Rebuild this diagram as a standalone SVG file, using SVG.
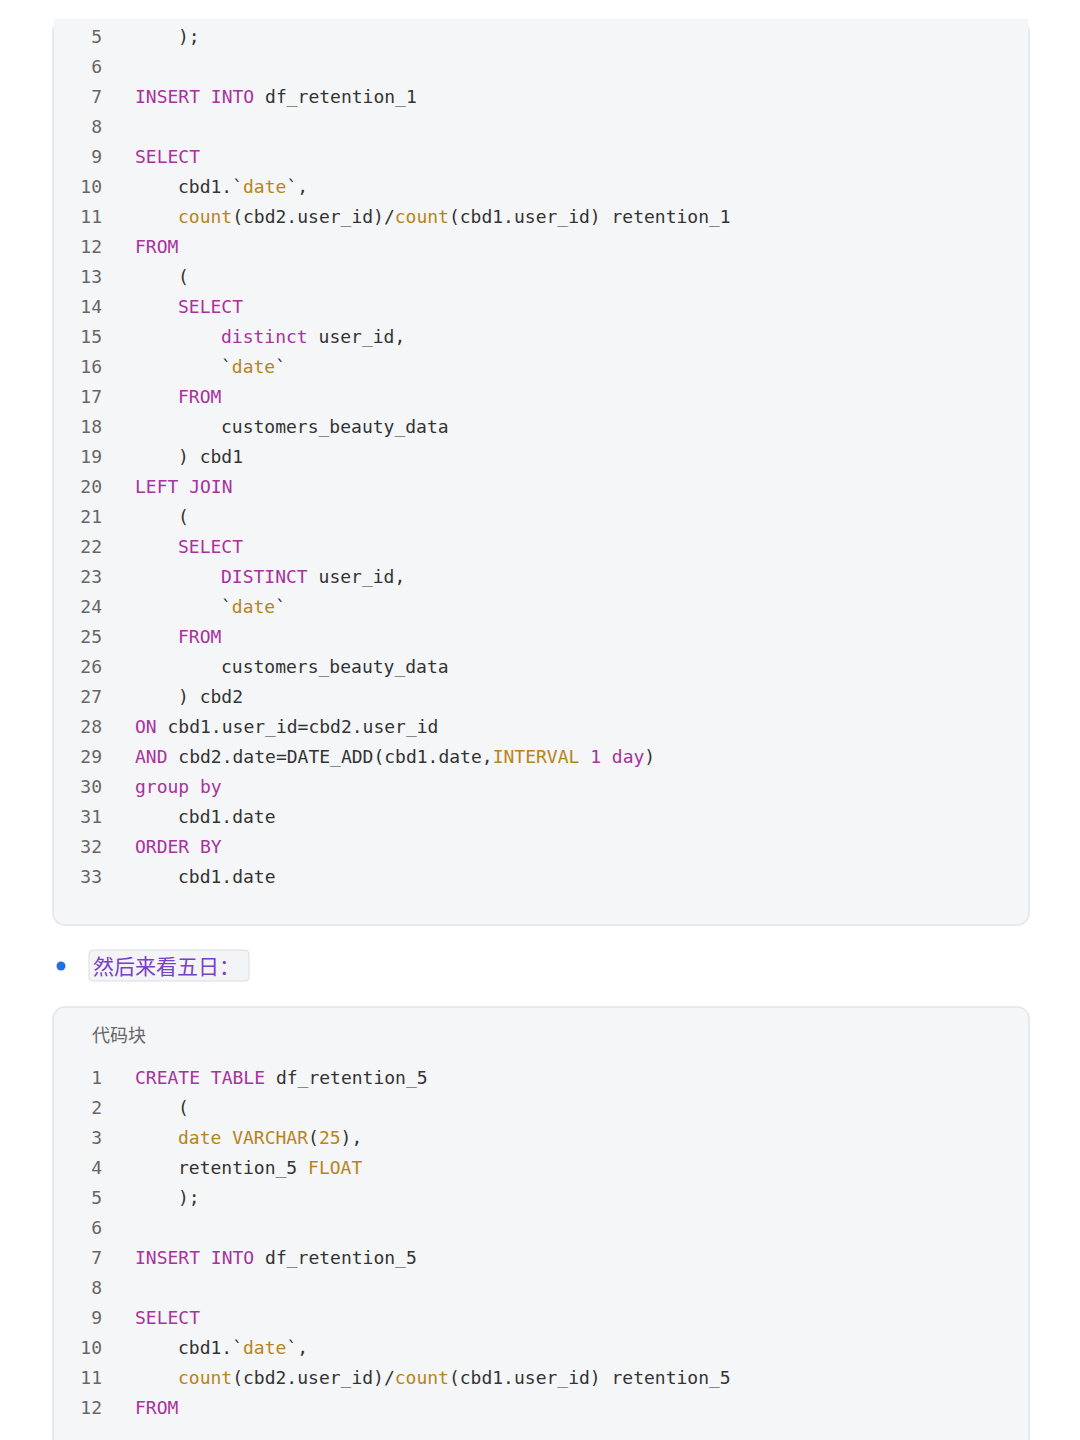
<svg xmlns="http://www.w3.org/2000/svg" width="1080" height="1440" viewBox="0 0 1080 1440">
<style>
.c{font-family:"DejaVu Sans Mono","Liberation Mono",monospace;font-size:18px;fill:#333;white-space:pre}
.n{font-family:"DejaVu Sans Mono",monospace;font-size:18px;fill:#666;text-anchor:end}
.k{fill:#a8329e}.o{fill:#b8841a}
.blk{fill:#f5f6f7;stroke:#e2e4e7;stroke-width:1.5}
</style>
<rect width="1080" height="1440" fill="#fff"/>
<g id="block1">
<rect class="blk" x="53" y="20" width="976" height="905" rx="12"/>
<rect x="53.75" y="19" width="974.5" height="12" fill="#f5f6f7"/>
<g class="n">
<text x="102" y="43">5</text><text x="102" y="73">6</text><text x="102" y="103">7</text><text x="102" y="133">8</text><text x="102" y="163">9</text><text x="102" y="193">10</text><text x="102" y="223">11</text><text x="102" y="253">12</text><text x="102" y="283">13</text><text x="102" y="313">14</text><text x="102" y="343">15</text><text x="102" y="373">16</text><text x="102" y="403">17</text><text x="102" y="433">18</text><text x="102" y="463">19</text><text x="102" y="493">20</text><text x="102" y="523">21</text><text x="102" y="553">22</text><text x="102" y="583">23</text><text x="102" y="613">24</text><text x="102" y="643">25</text><text x="102" y="673">26</text><text x="102" y="703">27</text><text x="102" y="733">28</text><text x="102" y="763">29</text><text x="102" y="793">30</text><text x="102" y="823">31</text><text x="102" y="853">32</text><text x="102" y="883">33</text>
</g>
<g class="c" xml:space="preserve">
<text x="178" y="43">);</text>
<text x="135" y="103"><tspan class="k">INSERT INTO</tspan> df_retention_1</text>
<text x="135" y="163" class="c k">SELECT</text>
<text x="178" y="193">cbd1.`<tspan class="o">date</tspan>`,</text>
<text x="178" y="223"><tspan class="o">count</tspan>(cbd2.user_id)/<tspan class="o">count</tspan>(cbd1.user_id) retention_1</text>
<text x="135" y="253" class="c k">FROM</text>
<text x="178" y="283">(</text>
<text x="178" y="313" class="c k">SELECT</text>
<text x="221" y="343"><tspan class="k">distinct</tspan> user_id,</text>
<text x="221" y="373">`<tspan class="o">date</tspan>`</text>
<text x="178" y="403" class="c k">FROM</text>
<text x="221" y="433">customers_beauty_data</text>
<text x="178" y="463">) cbd1</text>
<text x="135" y="493" class="c k">LEFT JOIN</text>
<text x="178" y="523">(</text>
<text x="178" y="553" class="c k">SELECT</text>
<text x="221" y="583"><tspan class="k">DISTINCT</tspan> user_id,</text>
<text x="221" y="613">`<tspan class="o">date</tspan>`</text>
<text x="178" y="643" class="c k">FROM</text>
<text x="221" y="673">customers_beauty_data</text>
<text x="178" y="703">) cbd2</text>
<text x="135" y="733"><tspan class="k">ON</tspan> cbd1.user_id=cbd2.user_id</text>
<text x="135" y="763"><tspan class="k">AND</tspan> cbd2.date=DATE_ADD(cbd1.date,<tspan class="o">INTERVAL</tspan> <tspan class="k">1 day</tspan>)</text>
<text x="135" y="793" class="c k">group by</text>
<text x="178" y="823">cbd1.date</text>
<text x="135" y="853" class="c k">ORDER BY</text>
<text x="178" y="883">cbd1.date</text>
</g>
</g>
<g id="bullet">
<circle cx="61" cy="966" r="4.5" fill="#1f6fe5"/>
<rect x="89" y="950" width="160" height="31" rx="4" fill="#f3f4f5" stroke="#dcdde0"/>
<text x="93" y="974" font-family="Noto Sans CJK SC,sans-serif" font-size="21" fill="#7a3fc6">然后来看五日：</text>
</g>
<g id="block2">
<rect class="blk" x="53" y="1007" width="976" height="460" rx="12"/>
<text x="92" y="1042" font-family="Noto Sans CJK SC,sans-serif" font-size="18" fill="#666">代码块</text>
<g class="n">
<text x="102" y="1084">1</text><text x="102" y="1114">2</text><text x="102" y="1144">3</text><text x="102" y="1174">4</text><text x="102" y="1204">5</text><text x="102" y="1234">6</text><text x="102" y="1264">7</text><text x="102" y="1294">8</text><text x="102" y="1324">9</text><text x="102" y="1354">10</text><text x="102" y="1384">11</text><text x="102" y="1414">12</text>
</g>
<g class="c" xml:space="preserve">
<text x="135" y="1084"><tspan class="k">CREATE TABLE</tspan> df_retention_5</text>
<text x="178" y="1114">(</text>
<text x="178" y="1144"><tspan class="o">date VARCHAR</tspan>(<tspan class="o">25</tspan>),</text>
<text x="178" y="1174">retention_5 <tspan class="o">FLOAT</tspan></text>
<text x="178" y="1204">);</text>
<text x="135" y="1264"><tspan class="k">INSERT INTO</tspan> df_retention_5</text>
<text x="135" y="1324" class="c k">SELECT</text>
<text x="178" y="1354">cbd1.`<tspan class="o">date</tspan>`,</text>
<text x="178" y="1384"><tspan class="o">count</tspan>(cbd2.user_id)/<tspan class="o">count</tspan>(cbd1.user_id) retention_5</text>
<text x="135" y="1414" class="c k">FROM</text>
</g>
</g>
</svg>
